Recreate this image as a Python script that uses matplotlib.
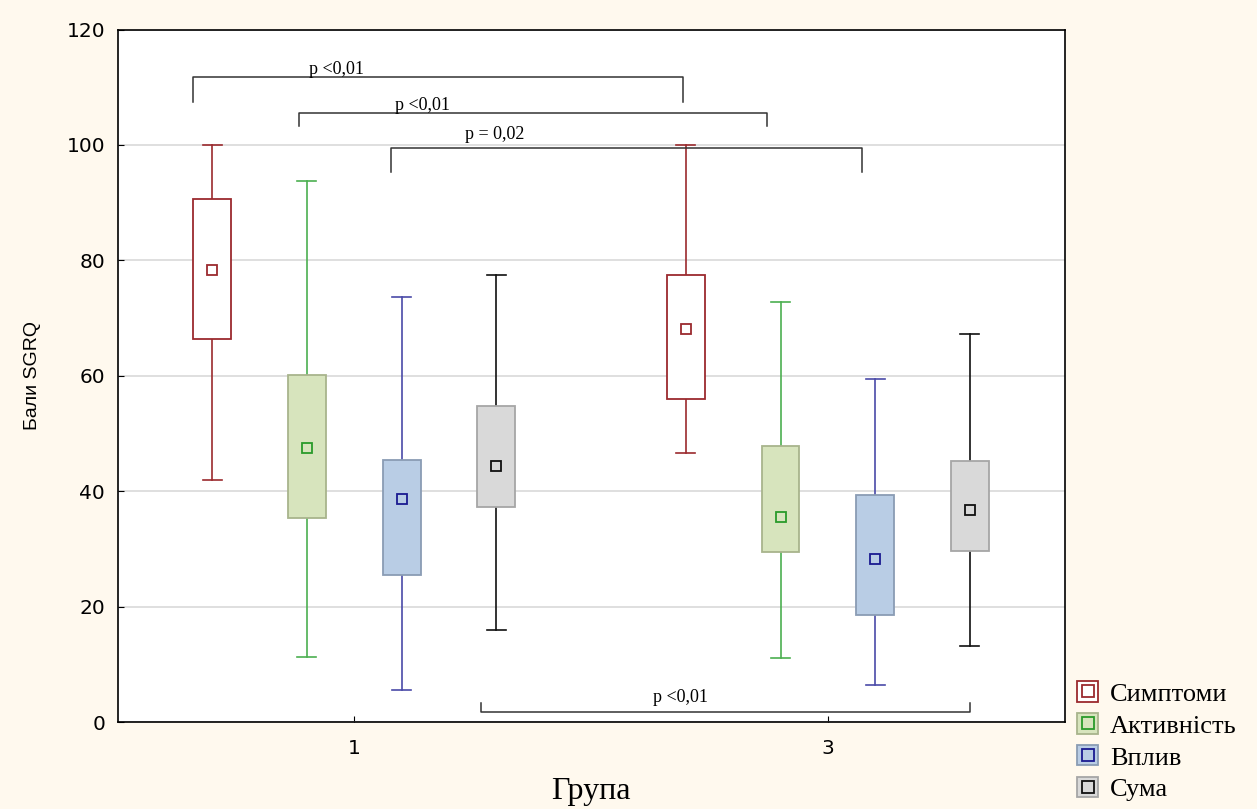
import matplotlib.pyplot as plt
from matplotlib.patches import Patch
from matplotlib.lines import Line2D
from matplotlib.legend_handler import HandlerTuple

# SGRQ scores per group: whisker low/high, box low/high, mean
groups = ['1', '3']
series = ['Симптоми', 'Активність', 'Вплив', 'Сума']
whisk_lo = [[42.0, 11.3, 5.6, 16.0], [46.7, 11.1, 6.5, 13.1]]
whisk_hi = [[100.0, 93.8, 73.7, 77.4], [100.0, 72.8, 59.5, 67.3]]
box_lo = [[66.3, 35.4, 25.5, 37.2], [56.0, 29.4, 18.5, 29.6]]
box_hi = [[90.7, 60.2, 45.4, 54.7], [77.4, 47.8, 39.4, 45.2]]
means = [[78.3, 47.5, 38.6, 44.3], [68.1, 35.6, 28.3, 36.7]]

# significance brackets: x0, x1, bar y, tip length, label
brackets = [(-0.34, 0.695, 111.7, -4.3, 'p <0,01'),
            (-0.116, 0.872, 105.6, -2.3, 'p <0,01'),
            (0.078, 1.071, 99.5, -4.2, 'p = 0,02'),
            (0.268, 1.301, 1.7, 1.6, 'p <0,01')]
label_x = [-0.038, 0.144, 0.296, 0.688]
label_y = [112.3, 106.1, 101.1, 3.4]

offsets = [-0.3, -0.1, 0.1, 0.3]
face = ['white', '#d7e4bd', '#b9cde5', '#d9d9d9']
edge = ['#9b2a2e', '#a8b48c', '#8a9cb4', '#a6a6a6']
line = ['#9b2a2e', '#4caf50', '#4a4aa8', '#111111']
mark = ['#9b2a2e', '#2a9a2a', '#1a1a90', '#111111']

serif = 'Liberation Serif'
sans = 'Liberation Sans'

fig = plt.figure(figsize=(12.57, 8.09), dpi=100, facecolor='#fff9ee')
ax = fig.add_axes([0.0935, 0.1075, 0.7535, 0.856])
ax.set_facecolor('white')

bw = 0.08
cw = 0.04
for g in range(len(groups)):
    for s in range(len(series)):
        x = g + offsets[s]
        ax.plot([x, x], [whisk_lo[g][s], box_lo[g][s]], color=line[s], lw=1.2, zorder=2)
        ax.plot([x, x], [box_hi[g][s], whisk_hi[g][s]], color=line[s], lw=1.2, zorder=2)
        ax.plot([x - cw / 2, x + cw / 2], [whisk_lo[g][s]] * 2, color=line[s], lw=1.2, zorder=2)
        ax.plot([x - cw / 2, x + cw / 2], [whisk_hi[g][s]] * 2, color=line[s], lw=1.2, zorder=2)
        ax.bar(x, box_hi[g][s] - box_lo[g][s], bottom=box_lo[g][s], width=bw,
               color=face[s], edgecolor=edge[s] if s else line[s], lw=1.3, zorder=3)
        ax.plot(x, means[g][s], marker='s', ms=7.5, mfc='none', mec=mark[s],
                mew=1.3, ls='none', zorder=4)

for (x0, x1, yb, tip, txt), tx, ty in zip(brackets, label_x, label_y):
    ax.plot([x0, x0, x1, x1], [yb + tip, yb, yb, yb + tip], color='#333333', lw=1.1, zorder=5)
    ax.text(tx, ty, txt, ha='center', va='baseline', fontsize=13, family=serif, zorder=6)

ax.set_xlim(-0.5, 1.5)
ax.set_ylim(0, 120)
ax.set_xticks(range(len(groups)))
ax.set_xticklabels(groups)
ax.set_yticks(range(0, 121, 20))
ax.grid(axis='y', color='#d9d9d9', lw=1.2)
ax.set_axisbelow(True)
ax.tick_params(direction='in', length=4, labelsize=14.5)
ax.tick_params(axis='y', pad=9)
ax.tick_params(axis='x', pad=12)
for lab in ax.get_xticklabels() + ax.get_yticklabels():
    lab.set_family('DejaVu Sans')
for sp in ax.spines.values():
    sp.set_linewidth(1.2)

ax.set_ylabel('Бали SGRQ', fontsize=14, family=sans)
ax.yaxis.set_label_coords(-0.081, 0.5)
ax.set_xlabel('Група', fontsize=23, family=serif)
ax.xaxis.set_label_coords(0.5, -0.08)

handles = []
for s in range(len(series)):
    handles.append((Patch(facecolor=face[s], edgecolor=edge[s] if s else line[s], lw=1.3),
                    Line2D([], [], marker='s', ms=8, mfc='none', mec=mark[s], mew=1.3, ls='none')))
fig.legend(handles, series, handler_map={tuple: HandlerTuple(ndivide=1, pad=0)},
           loc='lower left', bbox_to_anchor=(0.838, -0.02), frameon=False,
           prop={'family': serif, 'size': 19}, handlelength=0.8, handleheight=0.8,
           labelspacing=0.29, handletextpad=0.45, borderpad=0.4)

fig.savefig('out.png', dpi=100, facecolor=fig.get_facecolor())
